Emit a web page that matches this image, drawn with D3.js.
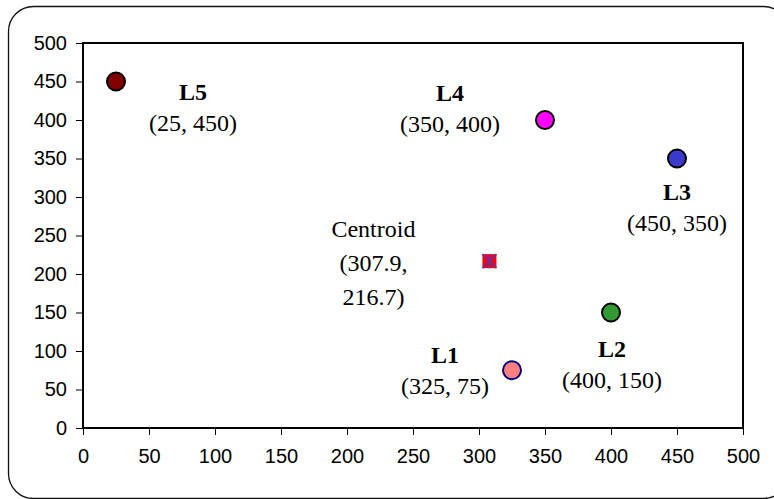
<!DOCTYPE html>
<html>
<head>
<meta charset="utf-8">
<script src="https://cdn.jsdelivr.net/npm/d3@7"></script>
<style>
  html, body { margin: 0; padding: 0; background: #fff; }
</style>
</head>
<body>
<div id="chart"></div>
<script>
// Locations
const names = ["L1", "L2", "L3", "L4", "L5"];
const xValues = [325, 400, 450, 350, 25];
const yValues = [75, 150, 350, 400, 450];
const fills = ["#ff8080", "#339933", "#3a3acc", "#ff00ff", "#800000"];
const strokes = ["#000080", "#000000", "#000000", "#000000", "#000000"];

// Centroid
const centroid = { x: 307.9, y: 216.7 };
const centroidLines = ["Centroid", "(307.9,", "216.7)"];

// Axis ticks
const xTicks = [0, 50, 100, 150, 200, 250, 300, 350, 400, 450, 500];
const yTicks = [0, 50, 100, 150, 200, 250, 300, 350, 400, 450, 500];

// Label placement, pixel offsets of the first baseline from the mark
const labelOffsets = {
  L1: [-67, -7], L2: [1, 44.5], L3: [0, 41.5], L4: [-95, -19], L5: [77, 18.5]
};

const chart = (() => {
  const width = 774;
  const height = 499;
  const marginTop = 43;
  const marginRight = 31;
  const marginBottom = 71;
  const marginLeft = 83;
  const serif = "'Liberation Serif', 'Times New Roman', serif";
  const sans = "'Liberation Sans', Arial, sans-serif";

  const svg = d3.create("svg")
      .attr("viewBox", [0, 0, width, height])
      .attr("width", width)
      .attr("height", height);

  // Outer rounded frame
  svg.append("rect")
      .attr("x", 8.5).attr("y", 6.5)
      .attr("width", 780).attr("height", 492)
      .attr("rx", 25).attr("ry", 25)
      .attr("fill", "none")
      .attr("stroke", "#111")
      .attr("stroke-width", 1.3);

  const x = d3.scaleLinear()
      .domain([0, 500])
      .range([marginLeft, width - marginRight]);

  const y = d3.scaleLinear()
      .domain([0, 500])
      .range([height - marginBottom, marginTop]);

  // X-axis
  const xAxis = svg.append("g")
      .attr("transform", `translate(0,${height - marginBottom})`)
      .call(d3.axisBottom(x).tickValues(xTicks).tickSize(7).tickSizeOuter(0).tickPadding(14));
  xAxis.select(".domain").remove();
  xAxis.selectAll("text")
      .attr("font-family", sans)
      .attr("font-size", "20px")
      .attr("fill", "#000");

  // Y-axis
  const yAxis = svg.append("g")
      .attr("transform", `translate(${marginLeft},0)`)
      .call(d3.axisLeft(y).tickValues(yTicks).tickSize(7).tickSizeOuter(0).tickPadding(9));
  yAxis.select(".domain").remove();
  yAxis.selectAll("text")
      .attr("font-family", sans)
      .attr("font-size", "20px")
      .attr("fill", "#000");

  // Plot frame
  svg.append("rect")
      .attr("x", x(0)).attr("y", y(500))
      .attr("width", x(500) - x(0))
      .attr("height", y(0) - y(500))
      .attr("fill", "none")
      .attr("stroke", "#000")
      .attr("stroke-width", 2);

  const points = names.map((n, i) => ({
    name: n, x: xValues[i], y: yValues[i], fill: fills[i], stroke: strokes[i]
  }));

  // Location markers
  svg.append("g")
    .selectAll("circle")
    .data(points)
    .join("circle")
      .attr("cx", d => x(d.x))
      .attr("cy", d => y(d.y))
      .attr("r", 9)
      .attr("fill", d => d.fill)
      .attr("stroke", d => d.stroke)
      .attr("stroke-width", 2);

  // Location labels
  const labels = svg.append("g")
      .attr("font-family", serif)
      .attr("font-size", "24px")
      .attr("text-anchor", "middle")
      .attr("fill", "#000");
  points.forEach(d => {
    const [dx, dy] = labelOffsets[d.name];
    const t = labels.append("text")
        .attr("x", x(d.x) + dx)
        .attr("y", y(d.y) + dy);
    t.append("tspan")
        .attr("x", x(d.x) + dx)
        .attr("font-weight", "bold")
        .text(d.name);
    t.append("tspan")
        .attr("x", x(d.x) + dx)
        .attr("dy", 31)
        .text(`(${d.x}, ${d.y})`);
  });

  // Centroid marker: red square with a purple asterisk
  const cx = x(centroid.x), cy = y(centroid.y), s = 7;
  const cg = svg.append("g");
  cg.append("rect")
      .attr("x", cx - s).attr("y", cy - s)
      .attr("width", 2 * s).attr("height", 2 * s)
      .attr("fill", "#ff0000");
  cg.append("path")
      .attr("d", `M${cx - s},${cy - s}L${cx + s},${cy + s}M${cx - s},${cy + s}L${cx + s},${cy - s}M${cx},${cy - s}L${cx},${cy + s}`)
      .attr("stroke", "#7a2a9a")
      .attr("stroke-width", 2);

  // Centroid label
  const ct = labels.append("text")
      .attr("x", cx - 116)
      .attr("y", cy - 24);
  centroidLines.forEach((line, i) => {
    ct.append("tspan")
        .attr("x", cx - 116)
        .attr("dy", i === 0 ? 0 : 34)
        .text(line);
  });

  document.getElementById("chart").appendChild(svg.node());
})();
</script>
</body>
</html>
